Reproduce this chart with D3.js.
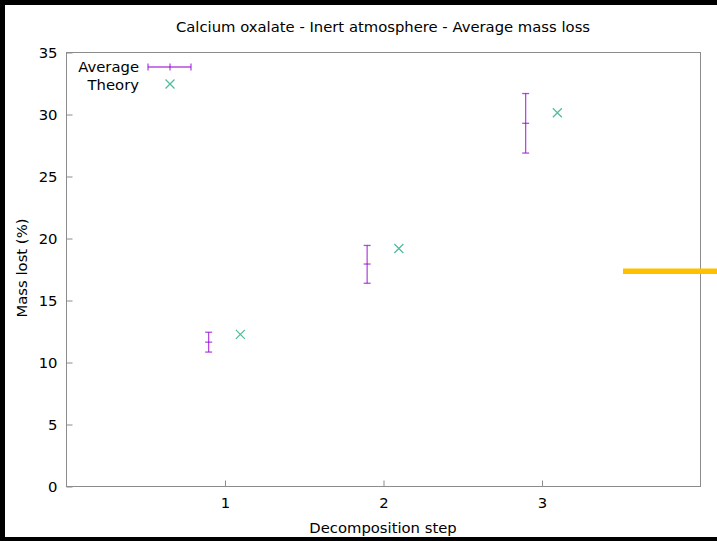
<!DOCTYPE html>
<html>
<head>
<meta charset="utf-8">
<script src="https://cdn.jsdelivr.net/npm/d3@7"></script>
<style>
  body { margin: 0; background: #fff; }
  text { font-family: "DejaVu Sans", sans-serif; font-size: 14.8px; fill: #000; }
</style>
</head>
<body>
<div id="canvas"></div>
<script>
// chart data
const steps = [1, 2, 3];
const avgMass = [11.6, 17.9, 29.25];
const avgLow = [10.8, 16.35, 26.85];
const avgHigh = [12.4, 19.4, 31.65];
const theoryMass = [12.23, 19.15, 30.1];
const yTicks = [0, 5, 10, 15, 20, 25, 30, 35];
const xTicks = [1, 2, 3];

const width = 717;
const height = 541;
const purple = '#9400d3';
const green = '#009e73';

const svg = d3.select('#canvas')
  .append('svg')
  .attr('width', width)
  .attr('height', height);

// black edges of the screenshot
svg.append('rect').attr('x', 0).attr('y', 0).attr('width', width).attr('height', 5).attr('fill', '#000');
svg.append('rect').attr('x', 0).attr('y', 0).attr('width', 5).attr('height', height).attr('fill', '#000');
svg.append('rect').attr('x', 0).attr('y', 537).attr('width', width).attr('height', 4).attr('fill', '#000');

const x = d3.scaleLinear().domain([0, 4]).range([66, 700]);
const y = d3.scaleLinear().domain([0, 35]).range([486, 52]);

// frame
svg.append('rect')
  .attr('x', x(0) + 0.5).attr('y', y(35) + 0.5)
  .attr('width', x(4) - x(0)).attr('height', y(0) - y(35))
  .attr('fill', 'none').attr('stroke', '#8c8c8c').attr('stroke-width', 1);

// y axis ticks
const yAxis = svg.append('g').attr('transform', `translate(${x(0) + 0.5},0.5)`)
  .call(d3.axisLeft(y).tickValues(yTicks).tickSize(-6).tickPadding(9));
yAxis.select('.domain').remove();
yAxis.selectAll('line').attr('stroke', '#8c8c8c');
yAxis.selectAll('text').attr('fill', '#000').style('font-size', '14.8px').style('font-family', '"DejaVu Sans", sans-serif');

// x axis ticks
const xAxis = svg.append('g').attr('transform', `translate(0.5,${y(0) + 0.5})`)
  .call(d3.axisBottom(x).tickValues(xTicks).tickFormat(d3.format('d')).tickSize(-6).tickPadding(11));
xAxis.select('.domain').remove();
xAxis.selectAll('line').attr('stroke', '#8c8c8c');
xAxis.selectAll('text').attr('fill', '#000').style('font-size', '14.8px').style('font-family', '"DejaVu Sans", sans-serif');

// titles
svg.append('text').attr('x', 383).attr('y', 32).attr('text-anchor', 'middle')
  .text('Calcium oxalate - Inert atmosphere - Average mass loss');
svg.append('text').attr('x', 383).attr('y', 533).attr('text-anchor', 'middle')
  .text('Decomposition step');
svg.append('text').attr('transform', 'translate(27,268) rotate(-90)').attr('text-anchor', 'middle')
  .text('Mass lost (%)');

// average with error bars
const avg = svg.append('g').attr('stroke', purple).attr('stroke-opacity', 0.7).attr('stroke-width', 1.3);
steps.forEach((s, i) => {
  const cx = x(s - 0.1);
  avg.append('line').attr('x1', cx).attr('x2', cx).attr('y1', y(avgLow[i])).attr('y2', y(avgHigh[i]));
  [avgLow[i], avgMass[i], avgHigh[i]].forEach(v => {
    avg.append('line').attr('x1', cx - 3.5).attr('x2', cx + 3.5).attr('y1', y(v)).attr('y2', y(v));
  });
});

// theory markers
const th = svg.append('g').attr('stroke', green).attr('stroke-opacity', 0.7).attr('stroke-width', 1.2);
steps.forEach((s, i) => {
  const cx = x(s + 0.1), cy = y(theoryMass[i]), r = 4.5;
  th.append('path').attr('d', `M${cx - r},${cy - r}L${cx + r},${cy + r}M${cx - r},${cy + r}L${cx + r},${cy - r}`);
});

// legend
svg.append('text').attr('x', 139).attr('y', 72).attr('text-anchor', 'end').text('Average');
svg.append('text').attr('x', 139).attr('y', 89.5).attr('text-anchor', 'end').text('Theory');
const lg = svg.append('g').attr('stroke', purple).attr('stroke-opacity', 0.7).attr('stroke-width', 1.3);
lg.append('line').attr('x1', 148).attr('x2', 191).attr('y1', 67).attr('y2', 67);
[148, 170, 191].forEach(px => {
  lg.append('line').attr('x1', px).attr('x2', px).attr('y1', 63.5).attr('y2', 70.5);
});
svg.append('path')
  .attr('d', 'M165.5,79.5L174.5,88.5M165.5,88.5L174.5,79.5')
  .attr('stroke', green).attr('stroke-opacity', 0.7).attr('stroke-width', 1.2);

// orange marker line at right edge
svg.append('rect').attr('x', 623).attr('y', 268.5).attr('width', width - 623).attr('height', 5.5)
  .attr('fill', '#ffc000');
</script>
</body>
</html>
